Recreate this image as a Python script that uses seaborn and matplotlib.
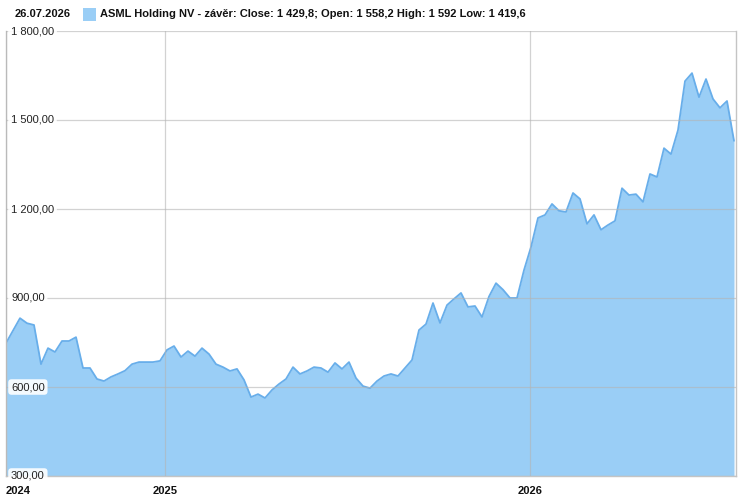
#!/usr/bin/env python
# -*- coding: utf-8 -*-

"""
ASML Holding NV - weekly close, area chart
"""

import pandas as pd
import numpy as np
import matplotlib
matplotlib.use("Agg")
import matplotlib.pyplot as plt
import matplotlib.transforms as mtransforms
import seaborn as sns

# --- data (weekly closes) ---
START_DATE = "2024-07-26"
END_DATE = "2026-07-26"
CLOSE = [
    748, 790, 832, 815, 809, 677, 731, 718, 755, 755, 768,
    664, 664, 627, 620, 634, 644, 655, 677, 684, 684, 684, 688,
    725, 738, 701, 721, 704, 731, 711, 677, 667, 654, 661, 624,
    566, 576, 563, 590, 610, 627, 667, 644, 654, 667, 664, 650,
    681, 661, 684, 630, 603, 596, 620, 637, 644, 637, 664, 691,
    792, 812, 883, 816, 876, 897, 917, 870, 873, 836, 905, 950,
    928, 900, 900, 994, 1072, 1170, 1180, 1217, 1194, 1190, 1254, 1234,
    1150, 1180, 1130, 1146, 1160, 1270, 1247, 1250, 1224, 1318, 1308, 1405,
    1385, 1466, 1631, 1658, 1577, 1638, 1571, 1541, 1564, 1429.8,
]
Y_TICKS = [300, 600, 900, 1200, 1500, 1800]
Y_LABELS = ["300,00", "600,00", "900,00", "1 200,00", "1 500,00", "1 800,00"]
YEAR_TICKS = ["2025-01-01", "2026-01-01"]
YEAR_LABELS = ["2024", "2025", "2026"]
HEADER_DATE = "26.07.2026"
LEGEND_TEXT = "ASML Holding NV - závěr: Close: 1 429,8; Open: 1 558,2 High: 1 592 Low: 1 419,6"

FILL = "#9ACEF6"
LINE = "#68AEEA"
GRID = "#b4b4b4"

sns.set_theme(style="white")
plt.rcParams["font.family"] = ["Liberation Sans", "DejaVu Sans"]

dates = pd.date_range(start=START_DATE, periods=len(CLOSE), freq="7D")
df = pd.DataFrame({"date": dates, "close": CLOSE})

fig = plt.figure(figsize=(7.46, 4.95), dpi=100)
ax = fig.add_axes([6 / 746, 1 - 476 / 495, 730 / 746, 445 / 495])

ax.fill_between(df["date"], df["close"], 0, color=FILL, lw=0, zorder=1)
sns.lineplot(data=df, x="date", y="close", ax=ax, color=LINE, lw=1.3, zorder=2)

ax.set_ylim(300, 1800)
ax.set_xlim(pd.Timestamp(START_DATE), pd.Timestamp(END_DATE))

# grid drawn on top, semi-transparent so it shows through the fill
ax.set_yticks(Y_TICKS)
xt = [pd.Timestamp(START_DATE)] + [pd.Timestamp(d) for d in YEAR_TICKS]
ax.set_xticks(xt)
ax.grid(True, color=GRID, lw=0.9, alpha=0.6, zorder=3)
ax.set_axisbelow(False)

ax.tick_params(axis="y", left=False, labelleft=False)
ax.tick_params(axis="x", bottom=False, pad=1)
ax.set_xticklabels(YEAR_LABELS, fontsize=8, fontweight="bold", color="#111111")
ax.get_xticklabels()[0].set_horizontalalignment("left")
ax.set_xlabel("")
ax.set_ylabel("")

for s in ["left", "bottom", "right"]:
    ax.spines[s].set_color("#c4c4c4")
    ax.spines[s].set_linewidth(1.0)
ax.spines["top"].set_visible(False)

# y labels inside the plot with white boxes
trans = mtransforms.blended_transform_factory(ax.transAxes, ax.transData)
for v, lab in zip(Y_TICKS, Y_LABELS):
    ax.text(5 / 730, v, lab, transform=trans, ha="left", va="center",
            fontsize=8, color="#222222", zorder=5,
            bbox=dict(boxstyle="round,pad=0.25,rounding_size=0.3",
                      fc="white", ec="none", alpha=0.9))

# header
fig.text(15 / 746, 1 - 14 / 495, HEADER_DATE, fontsize=8, fontweight="bold",
         color="#111111", ha="left", va="center")
fig.patches.append(plt.Rectangle((83 / 746, 1 - 21 / 495), 13 / 746, 13 / 495,
                                 transform=fig.transFigure, fc=FILL, ec="none"))
fig.text(100 / 746, 1 - 14 / 495, LEGEND_TEXT, fontsize=8, fontweight="bold",
         color="#111111", ha="left", va="center")

plt.savefig("out.png", dpi=100)
plt.close()
